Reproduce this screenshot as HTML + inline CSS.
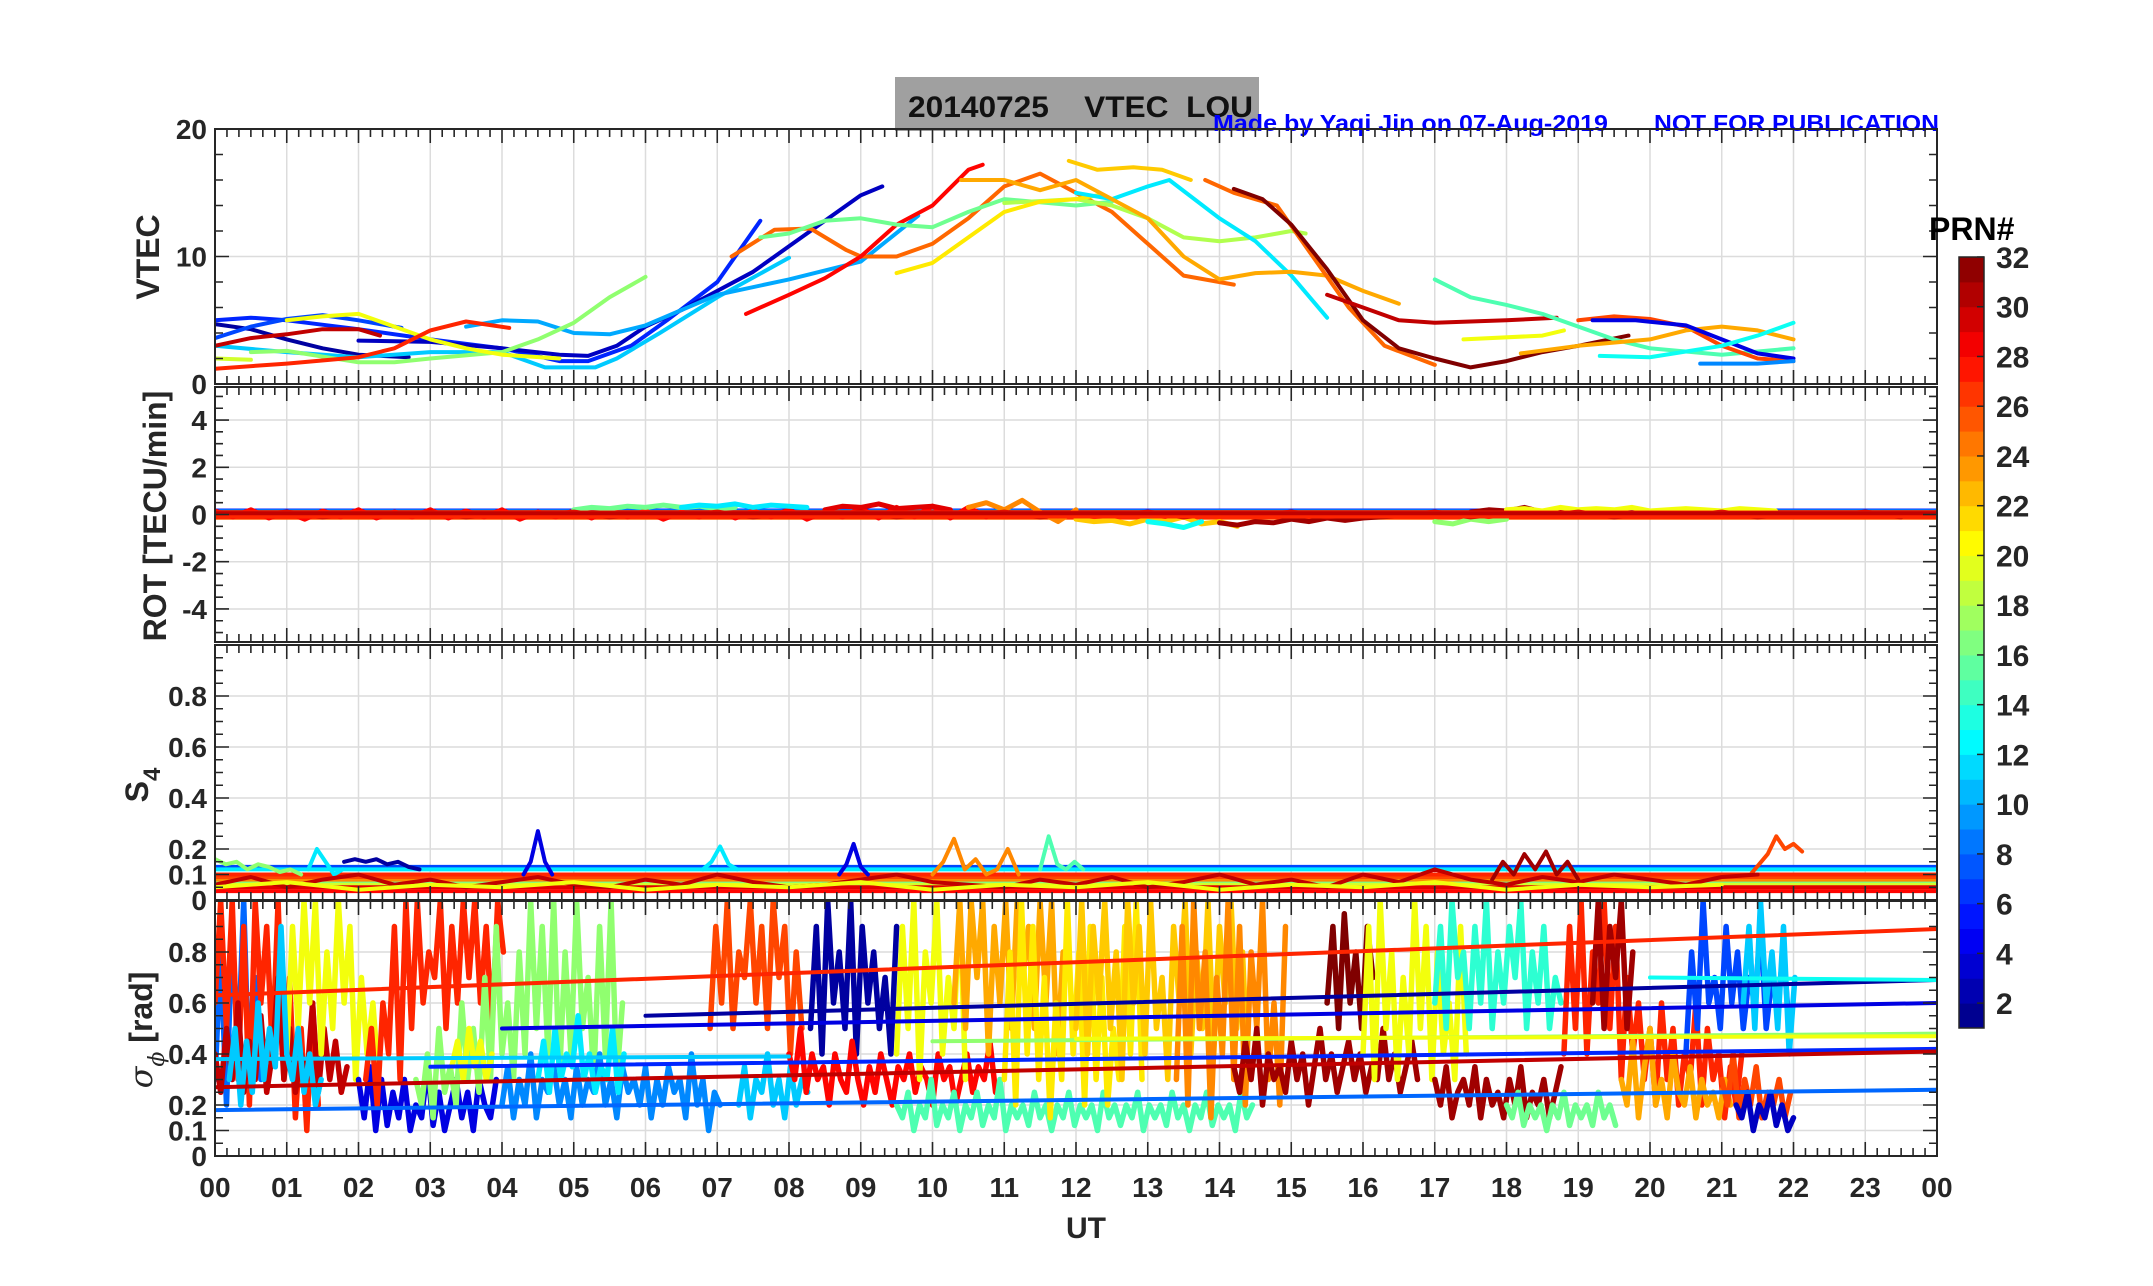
<!DOCTYPE html>
<html><head><meta charset="utf-8"><style>
html,body{margin:0;padding:0;background:#fff}
svg{display:block}
text{font-family:"Liberation Sans",Arial,sans-serif;font-weight:bold}
</style></head><body>
<svg id="fig" width="2153" height="1286" viewBox="0 0 2153 1286" xmlns="http://www.w3.org/2000/svg">
<rect x="895" y="77" width="364" height="54" fill="#a0a0a0"/>
<text x="908" y="117" font-size="30" fill="#111" textLength="345" lengthAdjust="spacingAndGlyphs" xml:space="preserve">20140725    VTEC  LOU</text>
<text x="1213" y="131" font-size="23" fill="#0000ff" textLength="395" lengthAdjust="spacingAndGlyphs">Made by Yaqi Jin on 07-Aug-2019</text>
<text x="1654" y="131" font-size="23" fill="#0000ff" textLength="285" lengthAdjust="spacingAndGlyphs">NOT FOR PUBLICATION</text>
<g id="layer"></g>
</svg>
<script>
// ---------- DATA ----------
const hourTickLabels=["00","01","02","03","04","05","06","07","08","09","10","11","12","13","14","15","16","17","18","19","20","21","22","23","00"];
const vtecPrn=[2,6,7,3,11,10,17,19,20,27,30,25,28,16,18,21,22,12,23,25,32,30,15,20,26,23,4,9,13];
const vtecPts=[
[[0,4.7],[0.5,4.3],[1,3.5],[1.5,2.8],[2,2.3],[2.7,2.1]],
[[0,5],[0.5,5.2],[1,5],[2,4.3],[3,3.5],[4,2.8],[4.8,1.8],[5.2,1.8],[5.8,3],[6.3,5],[7,8],[7.6,12.8]],
[[0,3.6],[0.5,4.5],[1,5.1],[1.5,5.4],[2,5],[2.6,4.4]],
[[2,3.4],[3,3.3],[4,2.8],[4.8,2.3],[5.2,2.2],[5.6,3],[6,4.5],[6.5,5.8],[7,7.3],[7.5,8.8],[8,10.8],[8.5,12.8],[9,14.8],[9.3,15.5]],
[[0,3],[1,2.5],[2,2.1],[3,2.5],[4,2.5],[4.6,1.3],[5.3,1.3],[5.6,2],[6.2,4],[7,6.8],[8,9.9]],
[[3.5,4.5],[4,5],[4.5,4.9],[5,4],[5.5,3.9],[6,4.6],[7,7],[8,8.2],[9,9.6],[9.8,13.2]],
[[0.5,2.5],[1,2.6],[2,1.7],[2.5,1.7],[3,2],[4,2.5],[4.5,3.5],[5,4.8],[5.5,6.8],[6,8.4]],
[[0,2],[0.5,1.9]],
[[1,5],[1.5,5.3],[2,5.5],[2.5,4.5],[3,3.5],[3.5,2.8],[4,2.3],[4.8,2.0]],
[[0,1.2],[1,1.6],[2,2.1],[2.5,2.8],[3,4.2],[3.5,4.9],[4.1,4.4]],
[[0,3],[0.5,3.6],[1,3.9],[1.5,4.3],[2,4.3],[2.3,3.8]],
[[7.2,10],[7.8,12.1],[8.3,12.2],[8.8,10.5],[9,10],[9.5,10],[10,11],[10.5,13],[11,15.5],[11.5,16.5],[12,15],[12.5,13.5],[13,11],[13.5,8.5],[14.2,7.8]],
[[7.4,5.5],[8,7],[8.5,8.3],[9,10],[9.5,12.5],[10,14],[10.5,16.8],[10.7,17.2]],
[[7.6,11.5],[8,11.8],[8.5,12.8],[9,13],[9.5,12.5],[10,12.3],[10.5,13.5],[11,14.5],[12,14],[12.5,14.3]],
[[11,14.2],[12,14.5],[12.5,14],[13,13],[13.5,11.5],[14,11.2],[14.5,11.5],[15,12],[15.2,11.8]],
[[9.5,8.7],[10,9.5],[10.5,11.5],[11,13.5],[11.5,14.3],[12,14.5],[12.3,14.8]],
[[11.9,17.5],[12.3,16.8],[12.8,17],[13.2,16.8],[13.6,16]],
[[12,15],[12.5,14.5],[13,15.5],[13.3,16],[14,13],[14.5,11.2],[15,8.5],[15.5,5.2]],
[[10.4,16],[11,16],[11.5,15.2],[12,16],[12.5,14.5],[13,13],[13.5,10],[14,8.2],[14.5,8.7],[15,8.8],[15.5,8.5],[16,7.3],[16.5,6.3]],
[[13.8,16],[14.2,15],[14.8,14],[15.3,10],[15.8,6],[16.3,3],[17,1.5]],
[[14.2,15.3],[14.6,14.5],[15,12.5],[15.5,9],[16,5],[16.5,2.8],[17,2],[17.5,1.3],[18,1.8],[18.5,2.5],[19,3],[19.7,3.8]],
[[15.5,7],[16,6],[16.5,5],[17,4.8],[18,5],[18.7,5.2]],
[[17,8.2],[17.5,6.8],[18,6.2],[18.5,5.5],[19,4.5],[19.5,3.5],[20,2.8],[21,2.3],[22,2.8]],
[[17.4,3.5],[18.5,3.8],[18.8,4.2]],
[[19,5],[19.5,5.3],[20,5.1],[20.5,4.5],[21,3],[21.5,2],[22,1.8]],
[[18.2,2.4],[19,3],[20,3.5],[20.5,4.2],[21,4.5],[21.5,4.2],[22,3.5]],
[[19.2,5],[19.8,5],[20.5,4.6],[21,3.5],[21.5,2.4],[22,2]],
[[20.7,1.6],[21.5,1.6],[22,1.8]],
[[19.3,2.2],[20,2.1],[21,3],[21.5,3.8],[22,4.8]]
];
// ROT
const rotFlatPrn=[6,12,24,30,27];
const rotFlatVal=[0.15,0.1,-0.12,0.08,-0.1];
const rotPrn=[28,16,12,29,24,22,13,31,17,31,20,30];
const rotStart=[0,5,6.5,8.5,10.5,12,13,14,17,17.5,18,0];
const rotStep=[0.25,0.25,0.25,0.25,0.25,0.25,0.25,0.25,0.25,0.25,0.25,0.5];
const rotVals=[
[0.15,-0.1,0.2,-0.15,0.1,-0.2,0.15,-0.1,0.2,-0.15,0.1,-0.1,0.2,-0.15,0.15,-0.1,0.2,-0.2,0.1,-0.1,0.15,-0.15,0.2,-0.1,0.15,-0.2,0.1,-0.1,0.2,-0.15,0.15,-0.1,0.2,-0.2,0.1,-0.1,0.25,-0.15,0.3,-0.1,0.35,-0.15,0.3,-0.1],
[0.2,0.3,0.25,0.35,0.3,0.4,0.3,0.35,0.25,0.3],
[0.3,0.4,0.35,0.45,0.3,0.4,0.35,0.3],
[0.2,0.35,0.3,0.45,0.25,0.3,0.35,0.2],
[0.3,0.5,0.2,0.6,0.1,-0.3,0.2],
[-0.2,-0.3,-0.25,-0.4,-0.2,-0.3,-0.1,-0.4,-0.3,-0.5],
[-0.3,-0.4,-0.55,-0.3],
[-0.35,-0.45,-0.3,-0.35,-0.2,-0.3,-0.15,-0.25,-0.15,-0.1,-0.05,0],
[-0.3,-0.4,-0.2,-0.3,-0.2],
[0.1,0.2,0.15,0.3,0.1,0.25,0.15,0.1],
[0.2,0.25,0.15,0.3,0.2,0.25,0.2,0.3,0.15,0.2,0.25,0.2,0.15,0.25,0.2,0.15],
[0.05,-0.05,0.1,-0.1,0.05,-0.05,0.1,-0.1,0.05,-0.05,0.1,-0.1,0.05,-0.05,0.1,-0.1,0.05,-0.05,0.1,-0.1,0.05,-0.05,0.1,-0.1,0.05,-0.05,0.1,-0.1,0.05,-0.05,0.1,-0.1,0.05,-0.05,0.1,-0.1,0.05,-0.05,0.1,-0.1,0.05,-0.05,0.1,-0.1,0.05,-0.05,0.1,-0.1]
];
// S4
const s4FlatPrn=[7,12,16,19,24,26,27,29,28];
const s4FlatVal=[0.13,0.12,0.07,0.06,0.08,0.09,0.1,0.05,0.035];
const s4Prn=[17,12,2,4,12,4,24,15,31,26,30,20];
const s4Start=[0,1.3,1.8,4.3,6.8,8.7,10,11.5,17.8,21.4,0,0];
const s4Step=[0.15,0.12,0.15,0.1,0.12,0.1,0.15,0.12,0.15,0.12,0.5,1];
const s4Vals=[
[0.16,0.14,0.15,0.12,0.14,0.13,0.11,0.12,0.1],
[0.12,0.2,0.15,0.1,0.12],
[0.15,0.16,0.15,0.16,0.14,0.15,0.13,0.12],
[0.1,0.15,0.27,0.15,0.1],
[0.12,0.15,0.21,0.14,0.12],
[0.1,0.14,0.22,0.13,0.1],
[0.1,0.15,0.24,0.12,0.16,0.1,0.12,0.2,0.1],
[0.12,0.25,0.14,0.12,0.15,0.12],
[0.08,0.15,0.1,0.18,0.12,0.19,0.1,0.15,0.08],
[0.1,0.14,0.18,0.25,0.2,0.22,0.19],
[0.06,0.09,0.05,0.08,0.1,0.06,0.08,0.05,0.07,0.09,0.06,0.05,0.08,0.06,0.1,0.07,0.05,0.06,0.08,0.1,0.07,0.06,0.05,0.08,0.06,0.09,0.05,0.07,0.1,0.06,0.08,0.05,0.1,0.07,0.12,0.08,0.06,0.09,0.07,0.1,0.08,0.06,0.09,0.1],
[0.05,0.07,0.04,0.06,0.05,0.07,0.04,0.06,0.05,0.07,0.04,0.06,0.05,0.07,0.04,0.06,0.05,0.07,0.04,0.06,0.05,0.06]
];
// Sigma phi
const sigPrn=[8,27,30,20,11,4,27,17,20,9,12,26,11,2,28,20,15,23,21,22,24,31,32,20,14,31,16,27,31,23,7,11,26,3];
const sigStart=[0,0,0,1.0,0.2,2.0,2.1,2.8,3.3,4.0,4.5,6.9,7.3,8.3,8.0,9.5,9.5,10.3,11.0,12.0,13.4,14.2,15.5,16.0,17.0,17.0,18.0,18.8,19.2,19.6,20.5,21.3,21.0,21.2];
const sigStep=0.08;
const sigVals=[
[0.3,0.8,0.2,0.9,0.4,1.0,0.25,0.7,0.3],
[0.6,1.0,0.5,1.0,0.3,0.9,0.2,1.0,0.6,0.9,0.4,1.0,0.3,0.7,0.15,0.5,0.1,0.6,0.2],
[0.4,0.25,0.5,0.3,0.6,0.25,0.45,0.3,0.55,0.25,0.4,0.7,0.3,0.5,0.25,0.4,0.3,0.6,0.25,0.5,0.3,0.45,0.25,0.35],
[0.4,0.9,0.5,1.0,0.6,1.0,0.4,0.8,0.5,1.0,0.6,0.9,0.3,0.7,0.4,0.6,0.3],
[0.3,0.5,0.2,0.45,0.25,0.6,0.3,0.5,0.35,0.9,0.4,0.3,0.5,0.25,0.4,0.2,0.3],
[0.3,0.15,0.35,0.1,0.3,0.12,0.25,0.15,0.3,0.1,0.2,0.15,0.35,0.12,0.25,0.1,0.2,0.3,0.15,0.25,0.1,0.3,0.2,0.15,0.3],
[0.3,0.5,0.2,0.6,0.4,0.9,0.3,1.0,0.5,1.0,0.6,0.8,0.7,1.0,0.5,0.9,0.6,1.0,0.7,1.0,0.6,0.9,0.5,1.0,0.8],
[0.3,0.2,0.4,0.15,0.5,0.25,0.35,0.2,0.6,0.3,0.5,0.25,0.7,0.3,0.9,0.4,0.6,0.3,0.8,0.4,1.0,0.5,0.9,0.4,1.0,0.3,0.8,0.4,1.0,0.5,0.7,0.3,0.9,0.4,1.0,0.3,0.6],
[0.35,0.45,0.3,0.5,0.35,0.45,0.3,0.4],
[0.2,0.35,0.15,0.3,0.2,0.4,0.15,0.3,0.25,0.35,0.2,0.3,0.15,0.35,0.2,0.3,0.25,0.4,0.2,0.3,0.15,0.35,0.25,0.3,0.2,0.35,0.15,0.3,0.2,0.35,0.25,0.3,0.15,0.4,0.2,0.3,0.1,0.25,0.2],
[0.3,0.45,0.25,0.5,0.3,0.4,0.35,0.55,0.3,0.4,0.25,0.35,0.3,0.5,0.25,0.4],
[0.5,0.9,0.6,1.0,0.5,0.8,0.7,1.0,0.6,0.9,0.5,1.0,0.7,0.9,0.4,0.8,0.5],
[0.2,0.35,0.15,0.3,0.25,0.4,0.2,0.3,0.15,0.35,0.2,0.3,0.25],
[0.5,0.9,0.4,1.0,0.6,0.8,0.5,1.0,0.4,0.9,0.6,0.8,0.5,0.7,0.4,0.9],
[0.4,0.3,0.5,0.25,0.4,0.3,0.35,0.2,0.4,0.3,0.25,0.45,0.3,0.2,0.35,0.25,0.4,0.3,0.2,0.35,0.3,0.4,0.25,0.35,0.3,0.2,0.4,0.3,0.35,0.2,0.3,0.4,0.25,0.35,0.3,0.45,0.25],
[0.4,0.9,0.5,1.0,0.3,0.8,0.6,1.0,0.4,0.7,0.5,1.0,0.3],
[0.2,0.15,0.25,0.1,0.2,0.15,0.3,0.12,0.2,0.15,0.25,0.1,0.2,0.15,0.25,0.12,0.2,0.15,0.3,0.1,0.2,0.15,0.2,0.12,0.25,0.15,0.2,0.1,0.2,0.15,0.25,0.12,0.2,0.15,0.2,0.1,0.25,0.15,0.2,0.12,0.2,0.15,0.25,0.1,0.2,0.15,0.2,0.12,0.25,0.15,0.2,0.1,0.2,0.15,0.25,0.12,0.2,0.15,0.2,0.1,0.25,0.15,0.2],
[0.6,1.0,0.5,1.0,0.7,1.0,0.4,0.9,0.6,1.0,0.5,1.0,0.7,0.9,0.5,1.0,0.6,1.0,0.4,0.8],
[0.3,0.8,0.2,1.0,0.4,0.9,0.3,0.7,0.15,0.6,0.3,1.0,0.4,0.8,0.2,0.9,0.3,0.7,0.2,0.5,0.3,0.9,0.4,1.0,0.3],
[0.5,1.0,0.4,0.9,0.6,1.0,0.5,0.8,0.3,1.0,0.6,0.9,0.4,1.0,0.5,0.7,0.3,0.9,0.6,1.0,0.4,0.8,0.5,1.0,0.4,0.9,0.6,1.0,0.5,0.8,0.3],
[0.3,0.9,0.2,1.0,0.5,0.8,0.15,0.7,0.4,1.0,0.3,0.9,0.2,0.8,0.5,1.0,0.3,0.6,0.2,0.9],
[0.35,0.25,0.45,0.3,0.5,0.2,0.4,0.3,0.35,0.25,0.45,0.3,0.4,0.2,0.35,0.5,0.3,0.4,0.25,0.35,0.45,0.3,0.4,0.25,0.35,0.3,0.5,0.3,0.4,0.25,0.35,0.45,0.3],
[0.6,0.9,0.5,0.95,0.6,0.8,0.5,0.9,0.7],
[0.4,0.9,0.3,1.0,0.5,0.8,0.3,0.7,0.4,1.0,0.5,0.9,0.3,0.8,0.4,0.6,0.3,0.9,0.4],
[0.6,0.9,0.5,1.0,0.7,0.8,0.5,0.9,0.6,1.0,0.5,0.8,0.6,0.9,0.7,1.0,0.5,0.8,0.6,0.9,0.5,0.7,0.6],
[0.3,0.2,0.35,0.15,0.25,0.3,0.2,0.35,0.15,0.3,0.2,0.25,0.15,0.3,0.2,0.35,0.15,0.25,0.2,0.3,0.15,0.25,0.35],
[0.2,0.15,0.25,0.12,0.2,0.15,0.2,0.1,0.2,0.15,0.25,0.12,0.2,0.15,0.2,0.12,0.25,0.15,0.2,0.12],
[0.4,0.9,0.5,1.0,0.4,0.8,0.6,1.0,0.5,0.9,0.3,0.7,0.4,0.6,0.3,0.5,0.2,0.6,0.3,0.5,0.2,0.4,0.3,0.6,0.2,0.5,0.3,0.4,0.15,0.35,0.2,0.4],
[0.6,1.0,0.5,0.9,0.7,1.0,0.5,0.8],
[0.3,0.2,0.45,0.15,0.35,0.5,0.2,0.3,0.15,0.4,0.25,0.2,0.35,0.15,0.3,0.2,0.25,0.15,0.3,0.2],
[0.4,0.8,0.5,1.0,0.6,0.7,0.5,0.9,0.6,0.8,0.5,0.7,0.6,0.9,0.5,0.7,0.6,0.8,0.5],
[0.6,0.9,0.5,1.0,0.6,0.8,0.5,0.9,0.4,0.7],
[0.3,0.2,0.4,0.15,0.3,0.2,0.35,0.15,0.25,0.2,0.3,0.15,0.25],
[0.2,0.15,0.25,0.1,0.2,0.15,0.25,0.12,0.2,0.1,0.15]
];
const trendPrn=[11,6,4,17,20,2,13,8,30,27];
const trendH0=[0,3,4,10,12,6,20,0,0,0];
const trendV0=[0.38,0.35,0.5,0.45,0.46,0.55,0.70,0.18,0.27,0.63];
const trendH1=[8,24,24,24,24,24,24,24,24,24];
const trendV1=[0.39,0.42,0.6,0.48,0.47,0.69,0.69,0.26,0.41,0.89];
const cbarTickLabels=[2,4,6,8,10,12,14,16,18,20,22,24,26,28,30,32];

// ---------- LAYOUT ----------
const NS="http://www.w3.org/2000/svg";
const L=215,R=1937;
const xs=h=>L+h*(R-L)/24;
const panels=[
 {name:"vtec",T:129,min:0,max:20,labels:[0,10,20],grid:[10],minor:2,fmt:v=>String(v)},
 {name:"rot",T:387,min:-5.4,max:5.4,labels:[-4,-2,0,2,4],grid:[-4,-2,0,2,4],minor:0.5,fmt:v=>String(v)},
 {name:"s4",T:645,min:0,max:1,labels:[0,0.1,0.2,0.4,0.6,0.8],grid:[0.1,0.2,0.4,0.6,0.8],minor:0.05,fmt:v=>v===0?"0":String(v)},
 {name:"sigma",T:901,min:0,max:1,labels:[0,0.1,0.2,0.4,0.6,0.8],grid:[0.1,0.2,0.4,0.6,0.8],minor:0.05,fmt:v=>v===0?"0":String(v)}
];
const H=255;
panels.forEach(p=>{p.B=p.T+H;p.y=v=>p.B-(v-p.min)/(p.max-p.min)*H;});
function jet(prn){const t=(prn-1)/31;const c=x=>Math.round(255*Math.max(0,Math.min(1,1.5-Math.abs(4*t-x))));return `rgb(${c(3)},${c(2)},${c(1)})`;}
const layer=document.getElementById('layer');
function mk(tag,attrs,parent){const e=document.createElementNS(NS,tag);for(const k in attrs)e.setAttribute(k,attrs[k]);(parent||layer).appendChild(e);return e;}

const defs=mk('defs',{});
panels.forEach(p=>{const cp=mk('clipPath',{id:'clip-'+p.name},defs);mk('rect',{x:L,y:p.T,width:R-L,height:H},cp);});

function drawAxes(p){
  const g=mk('g',{});
  
  
  for(let h=1;h<24;h++){const gl=mk('line',{x1:xs(h),x2:xs(h),y1:p.T,y2:p.B,stroke:'#dcdcdc','stroke-width':1.5},g);}
  p.grid.forEach(v=>{const gl=mk('line',{x1:L,x2:R,y1:p.y(v),y2:p.y(v),stroke:'#dcdcdc','stroke-width':1.5},g);});
  return g;
}
function drawFrame(p){
  const g=mk('g',{});
  
  
  let d='';
  for(let m=0;m<=144;m++){const x=xs(m/6);const len=(m%6===0)?14:8;d+=`M${x},${p.T}v${len}M${x},${p.B}v${-len}`;}
  for(let k=Math.ceil(p.min/p.minor);k*p.minor<=p.max+1e-9;k++){const v=k*p.minor;const y=p.y(v);const major=p.labels.some(l=>Math.abs(l-v)<1e-9);const len=major?14:8;d+=`M${L},${y}h${len}M${R},${y}h${-len}`;}
  mk('path',{d:d,stroke:'#262626','stroke-width':1.6,fill:'none'},g);
  const box=mk('rect',{x:L,y:p.T,width:R-L,height:H,fill:'none',stroke:'#262626','stroke-width':2},g);
  
  
  p.labels.forEach(v=>{const t=mk('text',{x:207,y:p.y(v)+10,'font-size':28,'text-anchor':'end',fill:'#262626'},g);t.textContent=p.fmt(v);});
}
function line(p,pts,prn,w,name){
  const g=p.series;
  const pl=mk('polyline',{points:pts.map(q=>xs(q[0]).toFixed(1)+','+p.y(q[1]).toFixed(1)).join(' '),fill:'none',stroke:jet(prn),'stroke-width':w,'stroke-linejoin':'round','stroke-linecap':'round'},g);
  
  
}
panels.forEach(p=>{drawAxes(p);p.series=mk('g',{'clip-path':`url(#clip-${p.name})`});});

// VTEC
vtecPts.forEach((pts,i)=>line(panels[0],pts,vtecPrn[i],4,'vtec-prn'+vtecPrn[i]));
// ROT
function seq(h0,step,vals){return vals.map((v,k)=>[h0+k*step,v]);}
rotFlatPrn.forEach((prn,i)=>line(panels[1],[[0,rotFlatVal[i]],[24,rotFlatVal[i]]],prn,5,'rot-baseline-prn'+prn));
rotVals.forEach((vals,i)=>line(panels[1],seq(rotStart[i],rotStep[i],vals),rotPrn[i],5,'rot-prn'+rotPrn[i]));
line(panels[1],[[0,0],[24,0]],27,8,'rot-zero-prn27');
line(panels[1],[[0,0.05],[24,0.05]],30,4,'rot-zero-prn30');
// S4
s4FlatPrn.forEach((prn,i)=>line(panels[2],[[0,s4FlatVal[i]],[24,s4FlatVal[i]]],prn,4,'s4-baseline-prn'+prn));
s4Vals.forEach((vals,i)=>line(panels[2],seq(s4Start[i],s4Step[i],vals),s4Prn[i],4,'s4-prn'+s4Prn[i]));
// Sigma
sigVals.forEach((vals,i)=>line(panels[3],seq(sigStart[i],sigStep,vals),sigPrn[i],5.5,'sigma-prn'+sigPrn[i]));
trendPrn.forEach((prn,i)=>line(panels[3],[[trendH0[i],trendV0[i]],[trendH1[i],trendV1[i]]],prn,4,'sigma-trend-prn'+prn));

panels.forEach(drawFrame);

// X tick labels
hourTickLabels.forEach((lab,i)=>{const t=mk('text',{x:xs(i),y:1197,'font-size':28,'text-anchor':'middle',fill:'#262626'});t.textContent=lab;});
function rlabel(txt,x,y,size,name){const t=mk('text',{x:x,y:y,'font-size':size,'text-anchor':'middle',fill:'#262626',transform:`rotate(-90 ${x} ${y})`});t.textContent=txt;return t;}
const xl=mk('text',{x:1086,y:1238,'font-size':30,'text-anchor':'middle',fill:'#262626'});xl.textContent='UT';


rlabel('VTEC',159,257,32,'vtec-axis-title');
rlabel('ROT [TECU/min]',166,516,32,'rot-axis-title');
const s4l=mk('text',{x:148,y:785,'font-size':32,'text-anchor':'middle',fill:'#262626',transform:'rotate(-90 148 785)'});


s4l.innerHTML='S<tspan dy="12" font-size="24">4</tspan>';
const sgl=mk('text',{x:152,y:1030,'font-size':32,'text-anchor':'middle',fill:'#262626',transform:'rotate(-90 152 1030)'});


sgl.innerHTML='<tspan font-family="DejaVu Serif,serif" font-style="italic" font-weight="normal">σ</tspan><tspan dy="12" font-size="22" font-family="DejaVu Serif,serif" font-style="italic" font-weight="normal">ϕ</tspan><tspan dy="-12"> [rad]</tspan>';

// Colorbar
const cb=mk('g',{});


const cbT=257,cbB=1028,cbL=1959,cbW=25;
const cy=v=>cbB-(v-1)/31*(cbB-cbT);
for(let k=1;k<=31;k++){const r=mk('rect',{x:cbL,y:cy(k+1),width:cbW,height:cy(k)-cy(k+1)+0.5,fill:jet(k+0.5)},cb);}
mk('rect',{x:cbL,y:cbT,width:cbW,height:cbB-cbT,fill:'none',stroke:'#262626','stroke-width':1.5},cb);
cbarTickLabels.forEach(v=>{mk('line',{x1:cbL+cbW,x2:cbL+cbW-7,y1:cy(v),y2:cy(v),stroke:'#262626','stroke-width':1.5},cb);const t=mk('text',{x:1996,y:cy(v)+11,'font-size':30,fill:'#262626'},cb);t.textContent=v;});
const pr=mk('text',{x:1929,y:240,'font-size':32,fill:'#000'});pr.textContent='PRN#';


</script>
</body></html>
